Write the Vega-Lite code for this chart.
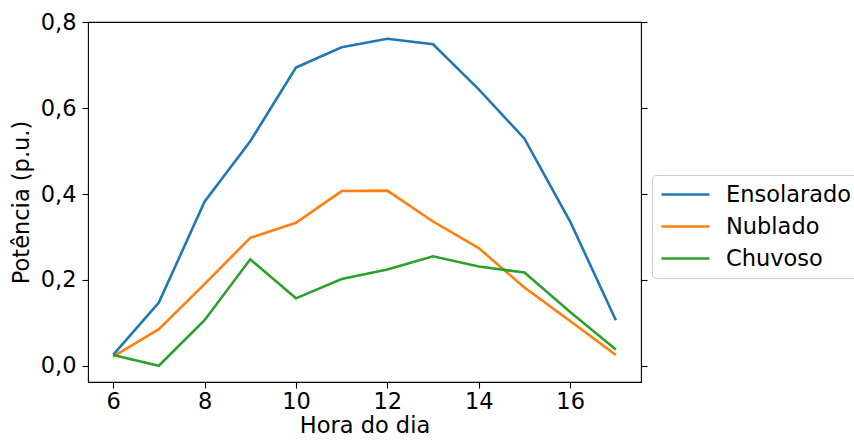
{
  "$schema": "https://vega.github.io/schema/vega-lite/v6.json",
  "autosize": "none",
  "padding": {"left": 88, "top": 22, "right": 213, "bottom": 59},
  "width": 553,
  "height": 360,
  "background": "white",
  "config": {
    "font": "DejaVu Sans",
    "view": {"stroke": "black", "strokeWidth": 1.1},
    "axis": {
      "grid": false,
      "domain": false,
      "tickColor": "black",
      "tickSize": 6,
      "tickWidth": 1.1,
      "labelFont": "DejaVu Sans",
      "labelFontSize": 22.5,
      "labelColor": "black",
      "titleFont": "DejaVu Sans",
      "titleFontSize": 22.5,
      "titleFontWeight": "normal",
      "titleColor": "black"
    },
    "legend": {
      "labelFont": "DejaVu Sans",
      "labelFontSize": 22.5,
      "labelColor": "black"
    }
  },
  "data": {
    "values": [
      {"hora": 6, "serie": "Ensolarado", "p": 0.025},
      {"hora": 7, "serie": "Ensolarado", "p": 0.147},
      {"hora": 8, "serie": "Ensolarado", "p": 0.382},
      {"hora": 9, "serie": "Ensolarado", "p": 0.523},
      {"hora": 10, "serie": "Ensolarado", "p": 0.695},
      {"hora": 11, "serie": "Ensolarado", "p": 0.742},
      {"hora": 12, "serie": "Ensolarado", "p": 0.762},
      {"hora": 13, "serie": "Ensolarado", "p": 0.749},
      {"hora": 14, "serie": "Ensolarado", "p": 0.644},
      {"hora": 15, "serie": "Ensolarado", "p": 0.529},
      {"hora": 16, "serie": "Ensolarado", "p": 0.336},
      {"hora": 17, "serie": "Ensolarado", "p": 0.106},
      {"hora": 6, "serie": "Nublado", "p": 0.021},
      {"hora": 7, "serie": "Nublado", "p": 0.085},
      {"hora": 8, "serie": "Nublado", "p": 0.19},
      {"hora": 9, "serie": "Nublado", "p": 0.298},
      {"hora": 10, "serie": "Nublado", "p": 0.333},
      {"hora": 11, "serie": "Nublado", "p": 0.407},
      {"hora": 12, "serie": "Nublado", "p": 0.408},
      {"hora": 13, "serie": "Nublado", "p": 0.336},
      {"hora": 14, "serie": "Nublado", "p": 0.274},
      {"hora": 15, "serie": "Nublado", "p": 0.182},
      {"hora": 16, "serie": "Nublado", "p": 0.104},
      {"hora": 17, "serie": "Nublado", "p": 0.025},
      {"hora": 6, "serie": "Chuvoso", "p": 0.025},
      {"hora": 7, "serie": "Chuvoso", "p": 0.0},
      {"hora": 8, "serie": "Chuvoso", "p": 0.106},
      {"hora": 9, "serie": "Chuvoso", "p": 0.248},
      {"hora": 10, "serie": "Chuvoso", "p": 0.157},
      {"hora": 11, "serie": "Chuvoso", "p": 0.202},
      {"hora": 12, "serie": "Chuvoso", "p": 0.224},
      {"hora": 13, "serie": "Chuvoso", "p": 0.255},
      {"hora": 14, "serie": "Chuvoso", "p": 0.231},
      {"hora": 15, "serie": "Chuvoso", "p": 0.217},
      {"hora": 16, "serie": "Chuvoso", "p": 0.125},
      {"hora": 17, "serie": "Chuvoso", "p": 0.038}
    ]
  },
  "layer": [
    {
      "mark": {"type": "line", "strokeWidth": 2.6, "clip": true},
      "encoding": {
        "x": {
          "field": "hora", "type": "quantitative",
          "scale": {"domain": [5.45, 17.55], "nice": false, "zero": false},
          "axis": {"values": [6, 8, 10, 12, 14, 16], "title": "Hora do dia", "labelPadding": 2, "titlePadding": 2}
        },
        "y": {
          "field": "p", "type": "quantitative",
          "scale": {"domain": [-0.038, 0.801], "nice": false, "zero": false},
          "axis": {
            "orient": "left",
            "values": [0, 0.2, 0.4, 0.6, 0.8],
            "labelExpr": "replace(format(datum.value, '.1f'), '.', ',')",
            "title": "Potência (p.u.)",
            "labelPadding": 6,
            "titlePadding": 7
          }
        },
        "color": {
          "field": "serie", "type": "nominal",
          "scale": {"domain": ["Ensolarado", "Nublado", "Chuvoso"], "range": ["#1f77b4", "#ff7f0e", "#2ca02c"]},
          "legend": {
            "title": null,
            "orient": "none",
            "legendX": 564,
            "legendY": 153,
            "symbolType": "M-2.4,0H2.4",
            "symbolSize": 400,
            "symbolStrokeWidth": 2.6,
            "symbolOffset": 14,
            "labelOffset": 29,
            "rowPadding": 9,
            "padding": 8,
            "strokeColor": "#cccccc",
            "fillColor": "white",
            "cornerRadius": 4
          }
        }
      }
    },
    {
      "mark": {"type": "line", "strokeOpacity": 0},
      "encoding": {
        "x": {"field": "hora", "type": "quantitative"},
        "y": {
          "field": "p", "type": "quantitative",
          "axis": {"orient": "right", "values": [0, 0.2, 0.4, 0.6, 0.8], "labels": false, "title": null}
        },
        "detail": {"field": "serie"}
      }
    }
  ],
  "resolve": {"axis": {"y": "independent"}}
}
